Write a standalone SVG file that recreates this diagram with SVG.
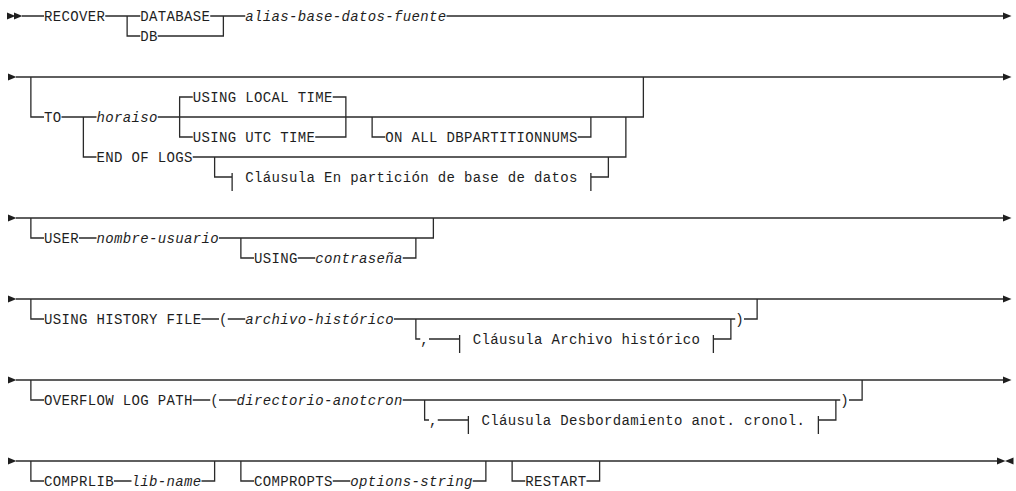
<svg xmlns="http://www.w3.org/2000/svg" width="1016" height="491" viewBox="0 0 1016 491">
<style>
.r{fill:none;stroke:#2a2a2a;stroke-width:1.3}
.t{font-family:"Liberation Mono","DejaVu Sans Mono",monospace;font-size:14px;letter-spacing:0.35px;fill:#1e1e1e}
.i{font-style:italic}
.a{fill:#1e1e1e}
</style>
<defs>
<path id="ar" d="M0,-3.6 L8.5,0 L0,3.6 Z"/>
<path id="al" d="M0,0 L8.5,-3.6 L8.5,3.6 Z"/>
</defs>
<g id="connectors">
<!-- block 1 -->
<use href="#ar" class="a" x="7" y="16"/><use href="#ar" class="a" x="14" y="16"/>
<path class="r" d="M22,16H44M105.25,16H140.25M210.25,16H245.25M446.5,16H1003"/>
<path class="r" d="M127.125,16V36H140.25M157.75,36H223.375V16"/>
<use href="#ar" class="a" x="1003" y="16"/>
<!-- block 2 -->
<use href="#ar" class="a" x="8" y="77"/>
<path class="r" d="M16,77H1003"/>
<use href="#ar" class="a" x="1003" y="77"/>
<path class="r" d="M30.875,77V117H44M61.5,117H96.5M157.75,117H643.375V77"/>
<path class="r" d="M179.625,117V97H192.75M332.75,97H345.875V117"/>
<path class="r" d="M179.625,117V137H192.75M315.25,137H345.875V117"/>
<path class="r" d="M372.125,117V137H385.25M577.75,137H590.875V117"/>
<path class="r" d="M83.375,117V157H96.5M192.75,157H625.875V117"/>
<path class="r" d="M214.625,157V177H232.125M232.125,173V191M590.875,173V191M590.875,177H608.375V157"/>
<!-- block 3 -->
<use href="#ar" class="a" x="8" y="218"/>
<path class="r" d="M16,218H1003"/>
<use href="#ar" class="a" x="1003" y="218"/>
<path class="r" d="M30.875,218V238H44M79,238H96.5M219,238H433.375V218"/>
<path class="r" d="M240.875,238V258H254M297.75,258H315.25M402.75,258H415.875V238"/>
<!-- block 4 -->
<use href="#ar" class="a" x="8" y="299"/>
<path class="r" d="M16,299H1003"/>
<use href="#ar" class="a" x="1003" y="299"/>
<path class="r" d="M30.875,299V319H44M201.5,319H219M227.75,319H245.25M394,319H735.25M744,319H757.125V299"/>
<path class="r" d="M415.875,319V339H420.25M429,339H459.625M459.625,335V353M713.375,335V353M713.375,339H730.875V319"/>
<!-- block 5 -->
<use href="#ar" class="a" x="8" y="380"/>
<path class="r" d="M16,380H1003"/>
<use href="#ar" class="a" x="1003" y="380"/>
<path class="r" d="M30.875,380V400H44M192.75,400H210.25M219,400H236.5M402.75,400H840.25M849,400H862.125V380"/>
<path class="r" d="M424.625,400V420H429M437.75,420H468.375M468.375,416V434M818.375,416V434M818.375,420H835.875V400"/>
<!-- block 6 -->
<use href="#ar" class="a" x="8" y="461"/>
<path class="r" d="M16,461H997"/>
<use href="#ar" class="a" x="997" y="461"/><use href="#al" class="a" x="1005" y="461"/>
<path class="r" d="M30.875,461V481H44M114,481H131.5M201.5,481H214.625V461"/>
<path class="r" d="M240.875,461V481H254M332.75,481H350.25M472.75,481H485.875V461"/>
<path class="r" d="M512.125,461V481H525.25M586.5,481H599.625V461"/>
</g>
<g id="n-recover"><text class="t" x="44" y="21">RECOVER</text></g>
<g id="n-database"><text class="t" x="140.25" y="21">DATABASE</text></g>
<g id="n-db"><text class="t" x="140.25" y="41">DB</text></g>
<g id="n-alias"><text class="t i" x="245.25" y="21">alias-base-datos-fuente</text></g>
<g id="n-to"><text class="t" x="44" y="122">TO</text></g>
<g id="n-horaiso"><text class="t i" x="96.5" y="122">horaiso</text></g>
<g id="n-local"><text class="t" x="192.75" y="102">USING LOCAL TIME</text></g>
<g id="n-utc"><text class="t" x="192.75" y="142">USING UTC TIME</text></g>
<g id="n-onall"><text class="t" x="385.25" y="142">ON ALL DBPARTITIONNUMS</text></g>
<g id="n-eol"><text class="t" x="96.5" y="162">END OF LOGS</text></g>
<g id="n-clausula-part"><text class="t" x="245.25" y="182">Cláusula En partición de base de datos</text></g>
<g id="n-user"><text class="t" x="44" y="243">USER</text></g>
<g id="n-nombre"><text class="t i" x="96.5" y="243">nombre-usuario</text></g>
<g id="n-using"><text class="t" x="254" y="263">USING</text></g>
<g id="n-pass"><text class="t i" x="315.25" y="263">contraseña</text></g>
<g id="n-histfile"><text class="t" x="44" y="324">USING HISTORY FILE</text><text class="t" x="219" y="324">(</text></g>
<g id="n-archivo"><text class="t i" x="245.25" y="324">archivo-histórico</text><text class="t" x="735.25" y="324">)</text></g>
<g id="n-clausula-arch"><text class="t" x="420.25" y="344">,</text><text class="t" x="472.75" y="344">Cláusula Archivo histórico</text></g>
<g id="n-overflow"><text class="t" x="44" y="405">OVERFLOW LOG PATH</text><text class="t" x="210.25" y="405">(</text></g>
<g id="n-dir"><text class="t i" x="236.5" y="405">directorio-anotcron</text><text class="t" x="840.25" y="405">)</text></g>
<g id="n-clausula-desb"><text class="t" x="429" y="425">,</text><text class="t" x="481.5" y="425">Cláusula Desbordamiento anot. cronol.</text></g>
<g id="n-comprlib"><text class="t" x="44" y="486">COMPRLIB</text></g>
<g id="n-libname"><text class="t i" x="131.5" y="486">lib-name</text></g>
<g id="n-compropts"><text class="t" x="254" y="486">COMPROPTS</text></g>
<g id="n-options"><text class="t i" x="350.25" y="486">options-string</text></g>
<g id="n-restart"><text class="t" x="525.25" y="486">RESTART</text></g>
</svg>
